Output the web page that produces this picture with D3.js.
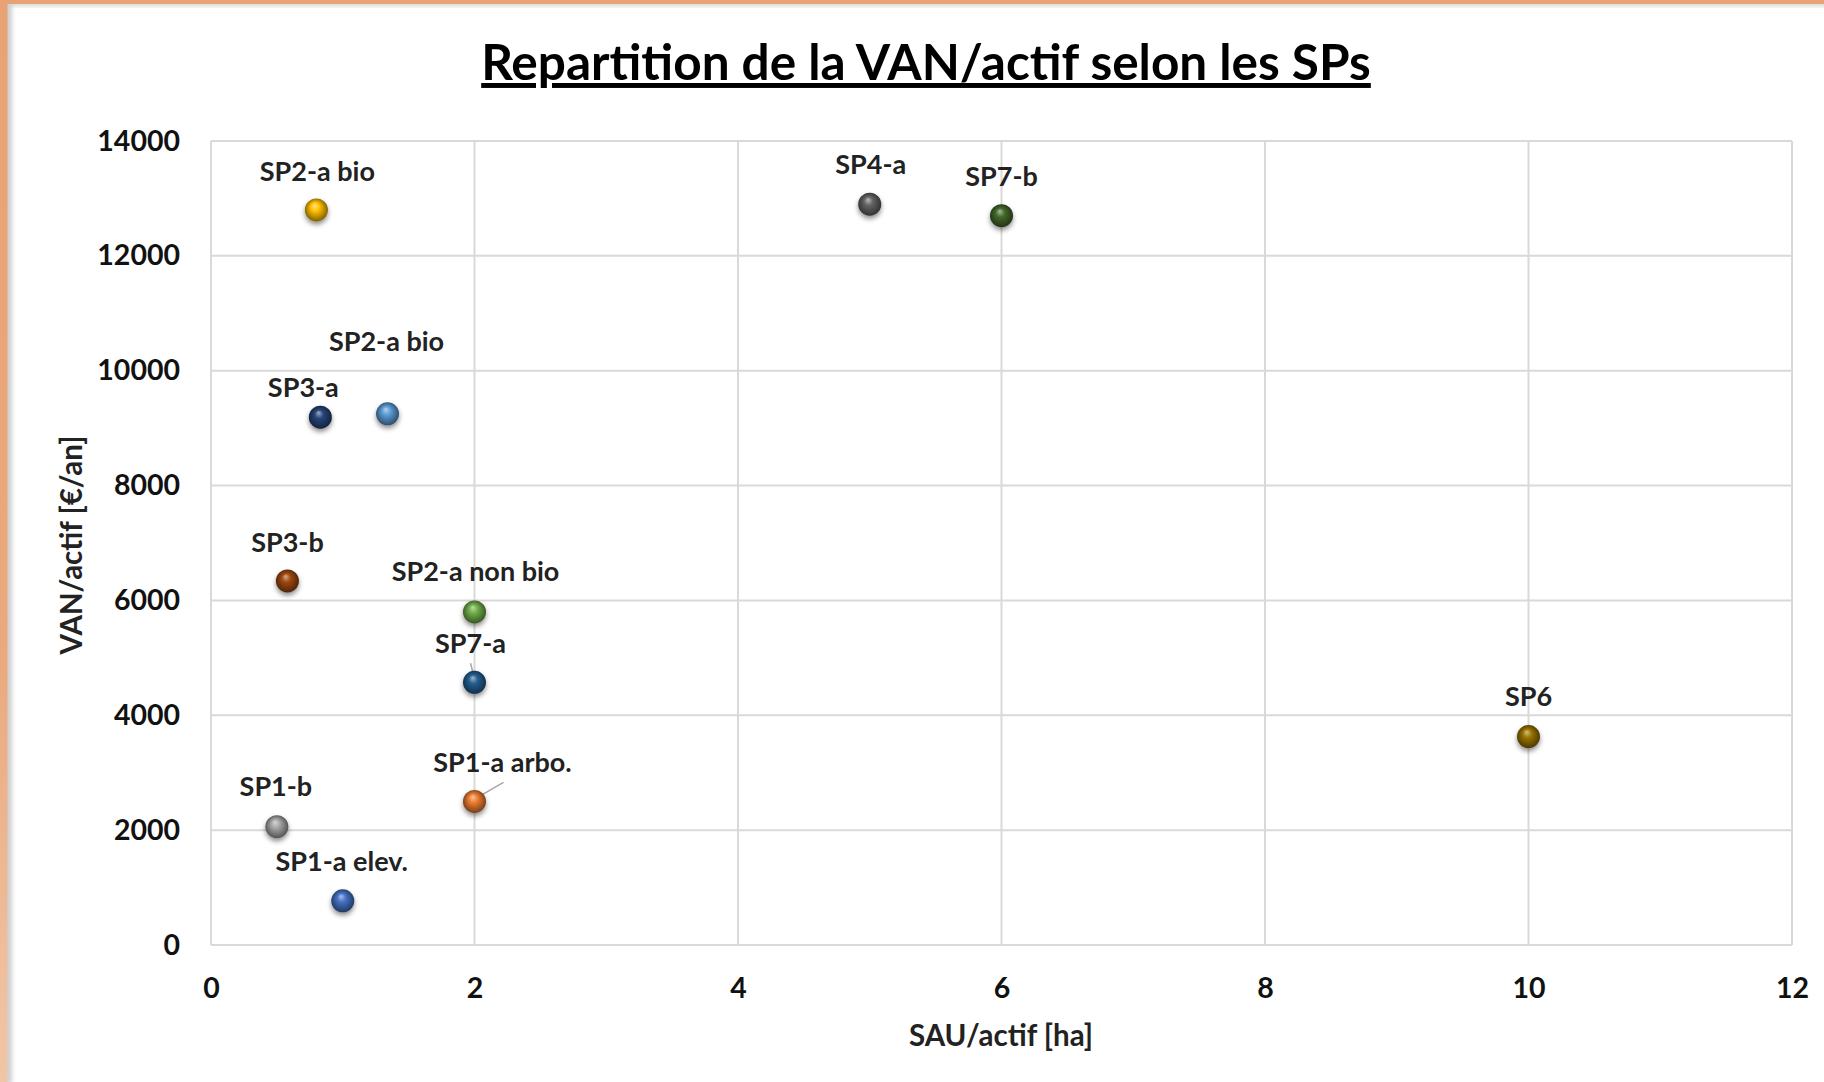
<!DOCTYPE html>
<html><head><meta charset="utf-8">
<script src="https://cdn.jsdelivr.net/npm/d3@7"></script>
<style>
html,body{margin:0;padding:0;background:#fff;}
svg{display:block;font-family:Lato,"Open Sans",sans-serif;}
</style></head>
<body>
<svg id="chart" width="1824" height="1082"></svg>
<script>
// ---- data ----
const names   = ["SP1-a elev.","SP1-a arbo.","SP1-b","SP2-a bio","SP2-a bio","SP2-a non bio","SP3-a","SP3-b","SP4-a","SP6","SP7-a","SP7-b"];
const sauActif = [1.0, 2.0, 0.5, 0.8, 1.34, 2.0, 0.83, 0.58, 5.0, 10.0, 2.0, 6.0];
const vanActif = [770, 2500, 2060, 12800, 9250, 5800, 9190, 6340, 12900, 3630, 4575, 12700];
const colors   = ["#4472C4","#ED7D31","#A5A5A5","#FFC000","#5B9BD5","#70AD47","#264478","#9E480E","#636363","#997300","#255E91","#43682B"];
const xTicks = [0,2,4,6,8,10,12];
const yTicks = [0,2000,4000,6000,8000,10000,12000,14000];
// label placement (pixel offsets of label centre from marker centre)
const labelDx = [-1,28,-1,1,-1,1,-17,0,1,0,-4,0];
const labelDy = [-39,-39,-40,-38,-72,-40,-30,-38,-40,-40,-39,-39];
const leaderIdx = [1,10];

const svg = d3.select("#chart");
const W=1824,H=1082;
const defs = svg.append("defs");

// frame borders
const lg = defs.append("linearGradient").attr("id","leftB").attr("x1",0).attr("y1",0).attr("x2",0).attr("y2",1);
lg.append("stop").attr("offset","0%").attr("stop-color","#e9a273");
lg.append("stop").attr("offset","60%").attr("stop-color","#eaa97e");
lg.append("stop").attr("offset","100%").attr("stop-color","#f0c6a8");
const sh = defs.append("filter").attr("id","bshadow").attr("x","-50%").attr("y","-50%").attr("width","200%").attr("height","200%");
sh.append("feGaussianBlur").attr("stdDeviation",2);

svg.append("rect").attr("x",0).attr("y",0).attr("width",W).attr("height",H).attr("fill","#fff");
svg.append("rect").attr("x",4).attr("y",2).attr("width",8).attr("height",H).attr("fill","#cfcfcf").attr("filter","url(#bshadow)");
svg.append("rect").attr("x",4).attr("y",2).attr("width",W).attr("height",4).attr("fill","#cfcfcf").attr("filter","url(#bshadow)");
svg.append("rect").attr("x",0).attr("y",0).attr("width",7.5).attr("height",H).attr("fill","url(#leftB)");
svg.append("rect").attr("x",0).attr("y",0).attr("width",W).attr("height",4).attr("fill","#e9a273");

const mLeft=211,mRight=1792,mTop=141,mBottom=945;
const x = d3.scaleLinear().domain([0,12]).range([mLeft,mRight]);
const y = d3.scaleLinear().domain([0,14000]).range([mBottom,mTop]);

// gridlines
const g = svg.append("g");
g.selectAll("line.v").data(xTicks).join("line")
  .attr("x1",d=>x(d)).attr("x2",d=>x(d)).attr("y1",mTop).attr("y2",mBottom)
  .attr("stroke","#d9d9d9").attr("stroke-width",2);
g.selectAll("line.h").data(yTicks).join("line")
  .attr("x1",mLeft).attr("x2",mRight).attr("y1",d=>y(d)).attr("y2",d=>y(d))
  .attr("stroke","#d9d9d9").attr("stroke-width",2);

// axes
const xa = svg.append("g").attr("transform",`translate(0,${mBottom})`)
  .call(d3.axisBottom(x).tickValues(xTicks).tickSize(0).tickPadding(33).tickFormat(d3.format("d")));
const ya = svg.append("g").attr("transform",`translate(${mLeft},0)`)
  .call(d3.axisLeft(y).tickValues(yTicks).tickSize(0).tickPadding(31).tickFormat(d3.format("d")));
[xa,ya].forEach(a=>{
  a.select(".domain").remove();
  a.selectAll("text").attr("font-family","Lato").attr("font-weight","bold").attr("font-size",28.5).attr("fill","#111");
});

// title
svg.append("text").attr("x",926).attr("y",80).attr("text-anchor","middle")
  .attr("font-weight","bold").attr("font-size",49.5).attr("fill","#000")
  .attr("text-decoration","underline")
  .text("Repartition de la VAN/actif selon les SPs");

// axis titles
svg.append("text").attr("x",1001).attr("y",1046).attr("text-anchor","middle")
  .attr("font-weight","bold").attr("font-size",29.5).attr("fill","#222").text("SAU/actif [ha]");
svg.append("text").attr("transform","translate(82,545) rotate(-90)").attr("text-anchor","middle")
  .attr("font-weight","bold").attr("font-size",29.5).attr("fill","#222").text("VAN/actif [€/an]");

// marker gradients
const ds = defs.append("filter").attr("id","mshadow").attr("x","-60%").attr("y","-60%").attr("width","220%").attr("height","220%");
ds.append("feDropShadow").attr("dx",0).attr("dy",3).attr("stdDeviation",2.5).attr("flood-color","#000").attr("flood-opacity",0.45);
colors.forEach((c,i)=>{
  const rg = defs.append("radialGradient").attr("id","rg"+i).attr("cx","50%").attr("cy","50%").attr("r","55%").attr("fx","42%").attr("fy","30%");
  rg.append("stop").attr("offset","0%").attr("stop-color",d3.interpolateRgb(c,"#fff")(0.55));
  rg.append("stop").attr("offset","35%").attr("stop-color",c);
  rg.append("stop").attr("offset","100%").attr("stop-color",d3.interpolateRgb(c,"#000")(0.55));
});

const idx = d3.range(names.length);

// leader lines
svg.append("g").selectAll("line").data(leaderIdx).join("line")
  .attr("x1",i=>x(sauActif[i])+labelDx[i]+(i===1?1:0))
  .attr("y1",i=>y(vanActif[i])+labelDy[i]+20)
  .attr("x2",i=>x(sauActif[i])+(i===1?3:0))
  .attr("y2",i=>y(vanActif[i])-4)
  .attr("stroke","#a6a6a6").attr("stroke-width",1.5);

svg.append("g").selectAll("circle").data(idx).join("circle")
  .attr("cx",i=>x(sauActif[i])).attr("cy",i=>y(vanActif[i])).attr("r",11.5)
  .attr("fill",i=>`url(#rg${i})`).attr("filter","url(#mshadow)");

// data labels
svg.append("g").selectAll("text").data(idx).join("text")
  .attr("x",i=>x(sauActif[i])+labelDx[i]).attr("y",i=>y(vanActif[i])+labelDy[i]+9.5)
  .attr("text-anchor","middle").attr("font-weight","bold").attr("font-size",27).attr("fill","#222")
  .text(i=>names[i]);
</script>
</body></html>
